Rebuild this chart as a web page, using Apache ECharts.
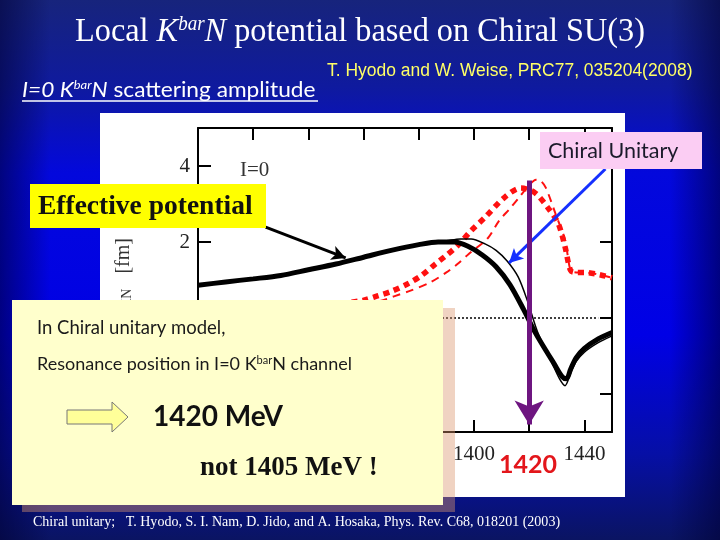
<!DOCTYPE html>
<html>
<head>
<meta charset="utf-8">
<script src="https://cdn.jsdelivr.net/npm/echarts@6/dist/echarts.min.js"></script>
<style>
html,body{margin:0;padding:0;background:#0a1570;}
#c{width:720px;height:540px;}
</style>
</head>
<body>
<div id="c"></div>
<script>
// ---- data (energy in MeV, amplitude in fm) ----
const effX = [1300,1310,1320,1330,1340,1350,1360,1370,1380,1387,1393,1398,1403,1408,1413,1418,1422,1426,1429,1432,1433.5,1435,1437,1440,1445,1450];
const effY = [0.86,0.95,1.03,1.12,1.27,1.42,1.60,1.78,1.93,2.00,2.00,1.88,1.66,1.35,0.88,0.22,-0.36,-0.85,-1.20,-1.55,-1.60,-1.35,-1.05,-0.80,-0.55,-0.38];

const chuX = [1300,1310,1320,1330,1340,1350,1360,1370,1380,1386,1390,1395,1399,1404,1408,1412,1416,1419.5,1423,1428,1431,1433,1435,1437,1440,1445,1450];
const chuY = [0.86,0.95,1.03,1.12,1.27,1.42,1.60,1.78,1.93,2.00,2.03,2.08,2.08,1.95,1.78,1.50,1.08,0.42,-0.36,-1.14,-1.60,-1.78,-1.45,-1.15,-0.90,-0.65,-0.47];

const imEffX = [1300,1320,1340,1350,1360,1365,1370,1376,1381,1386,1390,1394,1399,1404,1411,1417,1422,1427,1430.5,1433,1435,1437,1440,1450];
const imEffY = [0.12,0.18,0.28,0.36,0.47,0.58,0.70,0.90,1.12,1.42,1.65,1.90,2.30,2.65,3.17,3.42,3.30,2.88,2.49,1.87,1.25,1.20,1.20,1.06];

const imChuX = [1300,1320,1340,1355,1366,1371,1377,1384,1390,1394,1398,1405,1409,1413,1416,1420,1422.5,1424,1426,1429.5,1433,1435,1437,1440,1450];
const imChuY = [0.10,0.15,0.22,0.32,0.45,0.57,0.72,0.93,1.20,1.42,1.68,2.10,2.55,2.88,3.14,3.50,3.64,3.62,3.43,2.75,2.05,1.25,1.20,1.20,1.06];

const zeroX = [1300,1445];
const zeroY = [0,0];

const yTickValues = [-2,0,2,4];
const resonanceE = 1420;

// annotation arrows (data space: [MeV, fm])
const effArrow = [[1324.5,2.39],[1353.5,1.58]];
const chuArrow = [[1447.6,3.92],[1412.7,1.45]];
const resArrow = [[resonanceE,3.62],[resonanceE,-2.8]];

const pairs = (xs, ys) => xs.map((x,i)=>[x, ys[i]]);

const chart = echarts.init(document.getElementById('c'), null, {renderer:'canvas'});

const serif = 'Liberation Serif, Times New Roman, serif';
const sans = 'Lato, Open Sans, sans-serif';

const option = {
  animation: false,
  backgroundColor: 'transparent',
  grid: {left:198, top:128, width:414, height:304, containLabel:false},
  xAxis: [{
    type:'value', min:1300, max:1450, interval:20, position:'bottom',
    axisLine:{show:true, onZero:false, lineStyle:{color:'#000', width:2}},
    axisTick:{show:true, inside:true, length:12, lineStyle:{color:'#000', width:2}},
    splitLine:{show:false},
    axisLabel:{show:true, margin:12, color:'#222', fontFamily:serif, fontSize:21,
      formatter:(v)=> (v % 40 === 0 && v>1300) ? String(v) : ''}
  },{
    type:'value', min:1300, max:1450, interval:20, position:'top',
    axisLine:{show:true, onZero:false, lineStyle:{color:'#000', width:2}},
    axisTick:{show:true, inside:true, length:12, lineStyle:{color:'#000', width:2}},
    splitLine:{show:false}, axisLabel:{show:false}
  }],
  yAxis: [{
    type:'value', min:-3, max:5, position:'left',
    axisLine:{show:true, onZero:false, lineStyle:{color:'#000', width:2}},
    axisTick:{show:true, inside:true, length:13, customValues:yTickValues, lineStyle:{color:'#000', width:2}},
    splitLine:{show:false},
    axisLabel:{show:true, margin:8, color:'#222', fontFamily:serif, fontSize:21, customValues:yTickValues}
  },{
    type:'value', min:-3, max:5, position:'right',
    axisLine:{show:true, onZero:false, lineStyle:{color:'#000', width:2}},
    axisTick:{show:true, inside:true, length:12, customValues:yTickValues, lineStyle:{color:'#000', width:2}},
    splitLine:{show:false}, axisLabel:{show:false}
  }],
  series: [
    {type:'line', name:'zero', data:pairs(zeroX, zeroY), symbol:'none', silent:true,
     lineStyle:{color:'#000', width:1.5, type:[2,2]}, z:2},
    {type:'line', name:'Im chiral', data:pairs(imChuX, imChuY), symbol:'none', smooth:0.3,
     lineStyle:{color:'#ff1010', width:2, type:[8,6]}, z:3},
    {type:'line', name:'Im effective', data:pairs(imEffX, imEffY), symbol:'none', smooth:0.3,
     lineStyle:{color:'#ff1010', width:5.5, type:[6,5], cap:'butt'}, z:4},
    {type:'line', name:'Re chiral', data:pairs(chuX, chuY), symbol:'none', smooth:0.3,
     lineStyle:{color:'#000', width:1.5}, z:5},
    {type:'line', name:'Re effective', data:pairs(effX, effY), symbol:'none', smooth:0.3,
     lineStyle:{color:'#000', width:5}, z:6,
     markLine:{
       silent:true, animation:false, label:{show:false}, z:20,
       data:[
         [{coord:effArrow[0], symbol:'none', lineStyle:{color:'#000', width:3, type:'solid'}},
          {coord:effArrow[1], symbol:'arrow', symbolSize:[11,14]}],
         [{coord:chuArrow[0], symbol:'none', lineStyle:{color:'#1530ff', width:3, type:'solid'}},
          {coord:chuArrow[1], symbol:'arrow', symbolSize:[11,14]}],
         [{coord:resArrow[0], symbol:'none', lineStyle:{color:'#6e1580', width:5, type:'solid'}},
          {coord:resArrow[1], symbol:'arrow', symbolSize:[22,24]}]
       ]
     }}
  ],
  graphic: [
    // slide background
    {type:'rect', z:-20, shape:{x:0,y:0,width:720,height:540}, silent:true,
     style:{fill:{type:'linear', x:0,y:0,x2:0,y2:1, colorStops:[
       {offset:0, color:'#17247c'},{offset:0.16, color:'#0f1a9e'},{offset:0.32, color:'#0308dc'},
       {offset:0.62, color:'#0000e6'},{offset:0.84, color:'#060fa6'},{offset:1, color:'#0a1462'}]}}},
    {type:'rect', z:-19, shape:{x:0,y:0,width:720,height:540}, silent:true,
     style:{fill:{type:'linear', x:0,y:0,x2:1,y2:0, colorStops:[
       {offset:0, color:'rgba(0,0,50,0.55)'},{offset:0.07, color:'rgba(0,0,50,0)'},
       {offset:0.93, color:'rgba(0,0,50,0)'},{offset:1, color:'rgba(0,0,50,0.55)'}]}}},
    // figure image background
    {type:'rect', z:-10, shape:{x:100,y:113,width:525,height:384}, style:{fill:'#ffffff'}},
    // title
    {type:'text', z:50, x:360, y:32, scaleX:0.95, style:{
      text:'{n|Local }{i|K}{s|bar}{i|N}{n| potential based on Chiral SU(3)}',
      align:'center', verticalAlign:'middle',
      rich:{
        n:{fontFamily:serif, fontSize:34, fill:'#fff', color:'#fff'},
        i:{fontFamily:serif, fontSize:34, fontStyle:'italic', fill:'#fff', color:'#fff'},
        s:{fontFamily:serif, fontSize:20, fontStyle:'italic', fill:'#fff', color:'#fff', verticalAlign:'top', lineHeight:34}
      }}},
    // reference
    {type:'text', z:50, x:327, y:71, scaleX:0.97, style:{
      text:'T. Hyodo and W. Weise, PRC77, 035204(2008)', fill:'#ffff66',
      fontFamily:'Liberation Sans, Arial, sans-serif', fontSize:18, align:'left', verticalAlign:'middle'}},
    // subtitle
    {type:'text', z:50, x:22, y:90, scaleX:1.08, style:{
      text:'{i|I=0 K}{s|bar}{i|N}{n| scattering amplitude}', align:'left', verticalAlign:'middle',
      rich:{
        n:{fontFamily:sans, fontSize:21, fill:'#fff', color:'#fff'},
        i:{fontFamily:sans, fontSize:21, fontStyle:'italic', fill:'#fff', color:'#fff'},
        s:{fontFamily:sans, fontSize:12, fontStyle:'italic', fill:'#fff', color:'#fff', verticalAlign:'top', lineHeight:21}
      }}},
    {type:'line', z:50, shape:{x1:22,y1:101,x2:318,y2:101}, style:{stroke:'#fff', lineWidth:1.5}},
    // I=0 label inside plot
    {type:'text', z:30, x:240, y:170, style:{text:'I=0', fill:'#333', fontFamily:serif, fontSize:21, align:'left', verticalAlign:'middle'}},
    // y axis name (partly hidden)
    {type:'text', z:30, x:124, y:238, rotation:Math.PI/2, style:{
      text:'{n|Re f}{s|K\u0304N}{n|   [fm]}', align:'right', verticalAlign:'middle',
      rich:{n:{fontFamily:serif, fontSize:20, fill:'#333', color:'#333'},
            s:{fontFamily:serif, fontSize:14, fill:'#333', color:'#333', verticalAlign:'bottom'}}}},
    // Effective potential box
    {type:'rect', z:60, shape:{x:30,y:184,width:236,height:44}, style:{fill:'#ffff00'}},
    {type:'text', z:61, x:38, y:207, style:{text:'Effective potential', fill:'#111', fontFamily:serif, fontWeight:'bold', fontSize:27.5, align:'left', verticalAlign:'middle'}},
    // Chiral Unitary box
    {type:'rect', z:60, shape:{x:540,y:132,width:162,height:37}, style:{fill:'#fbcdf3'}},
    {type:'text', z:61, x:548, y:151, style:{text:'Chiral Unitary', fill:'#1a1a2a', fontFamily:sans, fontSize:21.5, align:'left', verticalAlign:'middle'}},
    // explanation box with shadow
    {type:'rect', z:70, shape:{x:22,y:308,width:433,height:204}, style:{fill:'rgba(220,150,110,0.42)'}},
    {type:'rect', z:71, shape:{x:12,y:300,width:431,height:205}, style:{fill:'#ffffcc'}},
    {type:'text', z:72, x:37, y:328, style:{text:'In Chiral unitary model,', fill:'#1a1a1a', fontFamily:sans, fontSize:18.5, align:'left', verticalAlign:'middle'}},
    {type:'text', z:72, x:37, y:364, style:{
      text:'{n|Resonance position in I=0 K}{s|bar}{n|N channel}', align:'left', verticalAlign:'middle',
      rich:{n:{fontFamily:sans, fontSize:18, fill:'#1a1a1a', color:'#1a1a1a'},
            s:{fontFamily:sans, fontSize:11, fill:'#1a1a1a', color:'#1a1a1a', verticalAlign:'top', lineHeight:18}}}},
    {type:'polygon', z:72, shape:{points:[[67,410],[112,410],[112,402],[128,417],[112,432],[112,424],[67,424]]},
     style:{fill:'#ffff99', stroke:'#777', lineWidth:1}},
    {type:'text', z:72, x:153, y:417, style:{text:'1420 MeV', fill:'#111', fontFamily:sans, fontWeight:'bold', fontSize:28, align:'left', verticalAlign:'middle'}},
    {type:'text', z:72, x:200, y:468, style:{text:'not 1405 MeV !', fill:'#111', fontFamily:serif, fontWeight:'bold', fontSize:27, align:'left', verticalAlign:'middle'}},
    // red 1420 label
    {type:'text', z:40, x:528, y:465, style:{text:'1420', fill:'#e3161b', fontFamily:sans, fontWeight:'bold', fontSize:25, align:'center', verticalAlign:'middle'}},
    // footer
    {type:'text', z:50, x:33, y:522, scaleX:0.935, style:{
      text:'Chiral unitary;   T. Hyodo, S. I. Nam, D. Jido, and A. Hosaka, Phys. Rev. C68, 018201 (2003)',
      fill:'#fff', fontFamily:serif, fontSize:15, align:'left', verticalAlign:'middle'}}
  ]
};
chart.setOption(option);
</script>
</body>
</html>
